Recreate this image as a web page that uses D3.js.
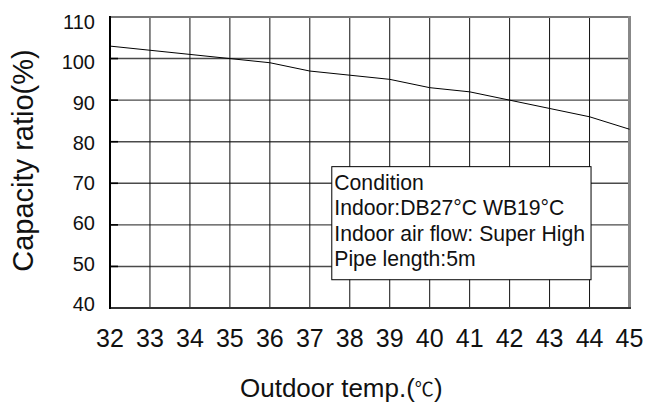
<!DOCTYPE html>
<html><head><meta charset="utf-8">
<script src="https://cdn.jsdelivr.net/npm/d3@7"></script>
<style>
html,body{margin:0;padding:0;background:#fff;}
svg{display:block;font-family:"Liberation Sans",Arial,sans-serif;}
</style></head>
<body>
<svg id="chart" width="647" height="402"></svg>
<script>
const temps = [32,33,34,35,36,37,38,39,40,41,42,43,44,45];
const capacity = [103,102,101,100,99,97,96,95,93,92,90,88,86,83];
const yTicks = [40,50,60,70,80,90,100,110];
const conditionLines = ["Condition","Indoor:DB27°C WB19°C","Indoor air flow: Super High","Pipe length:5m"];
const xTitle = "Outdoor temp.(";
const xTitleUnit = "℃";
const yTitle = "Capacity ratio(%)";

const svg = d3.select("#chart");
const x = d3.scaleLinear().domain([32,45]).range([110,629.5]);
const y = d3.scaleLinear().domain([40,110]).range([308,17]);
const yLab = d3.scaleLinear().domain([40,110]).range([304,22]);

const g = svg.append("g");
// horizontal grid
g.selectAll(".hg").data(yTicks).join("line")
  .attr("x1",110).attr("x2",629.5)
  .attr("y1",d=>y(d)).attr("y2",d=>y(d))
  .attr("stroke","#4a4a4a").attr("stroke-width",1.4);
// vertical grid
g.selectAll(".vg").data(temps).join("line")
  .attr("x1",d=>x(d)).attr("x2",d=>x(d))
  .attr("y1",17).attr("y2",308)
  .attr("stroke","#111").attr("stroke-width",1);
// left ticks
g.selectAll(".tk").data(yTicks).join("line")
  .attr("x1",110).attr("x2",118)
  .attr("y1",d=>y(d)).attr("y2",d=>y(d))
  .attr("stroke","#000").attr("stroke-width",1.6);
// borders
g.append("line").attr("x1",110).attr("x2",630).attr("y1",y(110)).attr("y2",y(110)).attr("stroke","#777").attr("stroke-width",2);
g.append("line").attr("x1",629.5).attr("x2",629.5).attr("y1",16).attr("y2",309).attr("stroke","#888").attr("stroke-width",3);
g.append("line").attr("x1",109).attr("x2",631).attr("y1",y(40)).attr("y2",y(40)).attr("stroke","#333").attr("stroke-width",2);
g.append("line").attr("x1",110).attr("x2",110).attr("y1",16).attr("y2",309).attr("stroke","#000").attr("stroke-width",2);

// data line
g.append("path").datum(temps.map((t,i)=>[t,capacity[i]]))
  .attr("d",d3.line().x(d=>x(d[0])).y(d=>y(d[1])))
  .attr("fill","none").attr("stroke","#000").attr("stroke-width",1);

// condition box
g.append("rect").attr("x",x(37.55)).attr("y",y(74)).attr("width",x(44)-x(37.55)+1.5).attr("height",y(46.8)-y(74))
  .attr("fill","#fff").attr("stroke","#000").attr("stroke-width",1);
g.selectAll(".ct").data(conditionLines).join("text")
  .attr("x",x(37.55)+2.5).attr("y",(d,i)=>189.5+i*25.5)
  .attr("font-size",21.2).attr("fill","#111").text(d=>d);

// y tick labels
svg.selectAll(".yl").data(yTicks).join("text")
  .attr("x",95).attr("y",d=>yLab(d)).attr("dy","0.35em")
  .attr("text-anchor","end").attr("font-size",20).attr("fill","#111").text(d=>d);
// x tick labels
svg.selectAll(".xl").data(temps).join("text")
  .attr("x",d=>x(d)).attr("y",346.5)
  .attr("text-anchor","middle").attr("font-size",25).attr("fill","#111").text(d=>d);

// titles
const xt = svg.append("text").attr("x",240).attr("y",396.5).attr("font-size",26).attr("fill","#111");
xt.append("tspan").text(xTitle);
xt.append("tspan").attr("font-size",19).attr("font-family","'Noto Sans CJK SC'").attr("dy",-1).text(xTitleUnit);
xt.append("tspan").attr("dy",1).text(")");
svg.append("text").attr("transform","translate(33,160.5) rotate(-90)")
  .attr("text-anchor","middle").attr("font-size",29).attr("fill","#111").text(yTitle);
</script>
</body></html>
